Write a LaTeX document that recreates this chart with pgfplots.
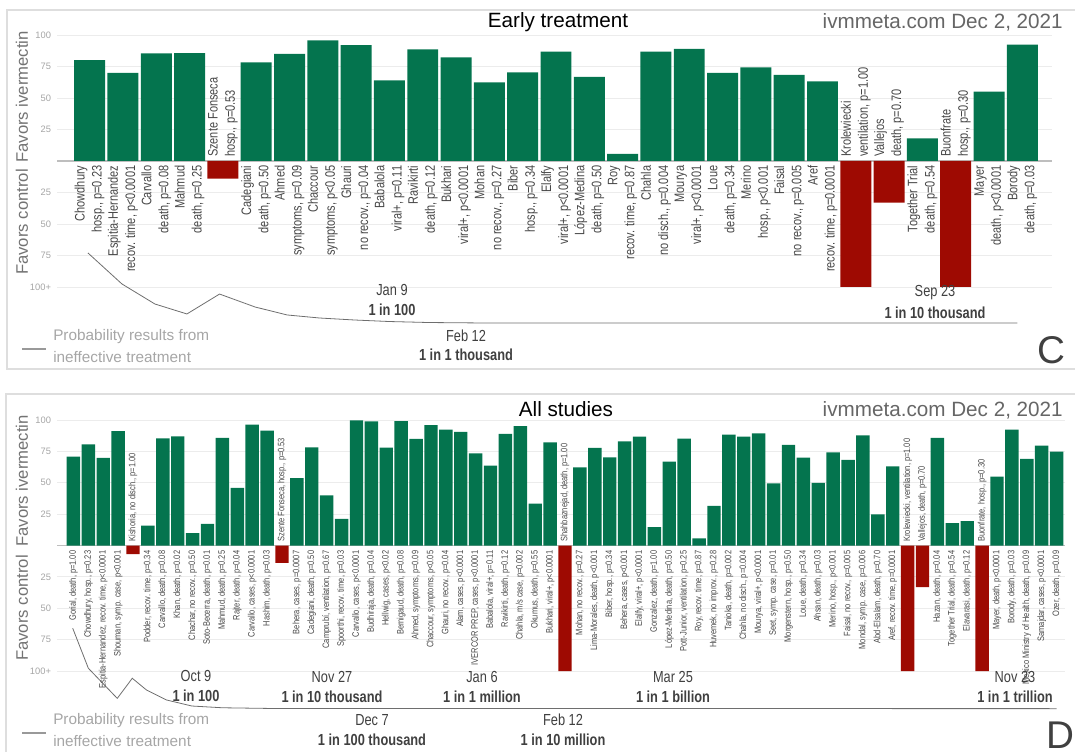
\documentclass[border=0pt]{standalone}
\usepackage{fontspec}
\setmainfont{Liberation Sans}
\newfontfamily\cond{Liberation Sans}[FakeStretch=0.8]
\usepackage{pgfplots}
\pgfplotsset{compat=1.18}
\definecolor{grn}{RGB}{4,116,78}
\definecolor{rd}{RGB}{158,10,2}
\definecolor{lbl}{RGB}{70,70,70}
\definecolor{tck}{RGB}{165,165,165}
\definecolor{grd}{RGB}{236,236,236}
\definecolor{zer}{RGB}{190,190,190}
\definecolor{crv}{RGB}{110,110,110}
\definecolor{frm}{RGB}{222,222,222}
% label macros (inside axis)
\newcommand{\lbTop}[2]{\node[rotate=90,anchor=east,align=right,inner sep=0pt,font=\cond\fontsize{10.3}{12.8}\selectfont,text=lbl] at (axis cs:#1,-3.5) {#2};}
\newcommand{\laTop}[2]{\node[rotate=90,anchor=west,align=left,inner sep=0pt,font=\cond\fontsize{10.3}{12.8}\selectfont,text=lbl] at (axis cs:#1,3) {#2};}
\newcommand{\lbBot}[2]{\node[rotate=90,anchor=east,inner sep=0pt,font=\cond\fontsize{7}{8}\selectfont,text=lbl] at (axis cs:#1,-4) {#2};}
\newcommand{\laBot}[2]{\node[rotate=90,anchor=west,inner sep=0pt,font=\cond\fontsize{7}{8}\selectfont,text=lbl] at (axis cs:#1,3) {#2};}
\pgfplotsset{panel/.style={
  scale only axis, clip=false,
  ymin=-100, ymax=100,
  axis line style={draw=none},
  major tick length=0pt,
  xtick=\empty,
  ytick={-100,-75,-50,-25,25,50,75,100},
  yticklabels={100+,75,50,25,25,50,75,100},
  yticklabel style={font=\fontsize{7}{8}\selectfont, text=tck, xshift=-1pt},
  ymajorgrids, grid style={grd, line width=0.6pt},
  extra y ticks={0}, extra y tick labels={},
  extra y tick style={grid style={zer, line width=0.8pt}},
}}
\begin{document}
\begin{tikzpicture}[x=0.75pt,y=-0.75pt]
\path[use as bounding box] (0,0) rectangle (1075,752);
% frames
\draw[frm, line width=0.9pt] (1075,10) -- (7,10) -- (7,369) -- (1075,369);
\draw[frm, line width=0.9pt] (1075,394) -- (6,394) -- (6,752);

% ================= TOP PANEL =================
\begin{axis}[panel,
  at={({57*0.75pt},{-287*0.75pt})}, anchor=south west,
  width={995*0.75pt}, height={252*0.75pt},
  xmin=-0.98, xmax=28.89]
\addplot[ybar, bar width=0.93, bar shift=0pt, fill=grn, draw=none] coordinates {
(0,80) (1,70) (2,85.5) (3,85.7) (5,78.3) (6,85) (7,95.8) (8,92) (9,64)
(10,88.6) (11,82.3) (12,62.4) (13,70.4) (14,86.8) (15,66.7) (16,5.6) (17,86.8)
(18,89) (19,70) (20,74.3) (21,68.3) (22,63.2) (25,18) (27,55) (28,92.3)};
\addplot[ybar, bar width=0.93, bar shift=0pt, fill=rd, draw=none] coordinates {
(4,-14) (23,-100) (24,-33) (26,-100)};
\addplot[crv, line width=0.6pt] coordinates {
(-0.05,-73) (0.97,-97.6) (1.96,-113.5) (2.92,-121.4) (3.9,-105.6) (4.97,-115.9)
(5.93,-122.2) (6.9,-124.6) (7.96,-126.2) (9.0,-127.4) (10.2,-128.2) (12,-128.6) (27.85,-128.6)};
\lbTop{0}{Chowdhury\\hosp., p=0.23}
\lbTop{1}{Espitia-Hernandez\\recov. time, p<0.0001}
\lbTop{2}{Carvallo\\death, p=0.08}
\lbTop{3}{Mahmud\\death, p=0.25}
\laTop{4}{Szente Fonseca\\hosp., p=0.53}
\lbTop{5}{Cadegiani\\death, p=0.50}
\lbTop{6}{Ahmed\\symptoms, p=0.09}
\lbTop{7}{Chaccour\\symptoms, p<0.05}
\lbTop{8}{Ghauri\\no recov., p=0.04}
\lbTop{9}{Babalola\\viral+, p=0.11}
\lbTop{10}{Ravikirti\\death, p=0.12}
\lbTop{11}{Bukhari\\viral+, p<0.0001}
\lbTop{12}{Mohan\\no recov., p=0.27}
\lbTop{13}{Biber\\hosp., p=0.34}
\lbTop{14}{Elalfy\\viral+, p<0.0001}
\lbTop{15}{López-Medina\\death, p=0.50}
\lbTop{16}{Roy\\recov. time, p=0.87}
\lbTop{17}{Chahla\\no disch., p=0.004}
\lbTop{18}{Mourya\\viral+, p<0.0001}
\lbTop{19}{Loue\\death, p=0.34}
\lbTop{20}{Merino\\hosp., p<0.001}
\lbTop{21}{Faisal\\no recov., p=0.005}
\lbTop{22}{Aref\\recov. time, p=0.0001}
\laTop{23}{Krolewiecki\\ventilation, p=1.00}
\laTop{24}{Vallejos\\death, p=0.70}
\lbTop{25}{Together Trial\\death, p=0.54}
\laTop{26}{Buonfrate\\hosp., p=0.30}
\lbTop{27}{Mayer\\death, p<0.0001}
\lbTop{28}{Borody\\death, p=0.03}
\end{axis}

% ================= BOTTOM PANEL =================
\begin{axis}[panel,
  at={({57*0.75pt},{-671*0.75pt})}, anchor=south west,
  width={1008*0.75pt}, height={251*0.75pt},
  xmin=-1.104, xmax=66.565]
\addplot[ybar, bar width=0.9, bar shift=0pt, fill=grn, draw=none] coordinates {
(0,70.8) (1,80.6) (2,69.8) (3,91.2) (5,15.9) (6,85.4) (7,87) (8,9.8) (9,17.2)
(10,85.7) (11,45.9) (12,96.3) (13,91.5) (15,53.6) (16,78.2) (17,40) (18,21.2)
(19,99.7) (20,98.9) (21,78) (22,99.2) (23,84.9) (24,96) (25,92.3) (26,90.5)
(27,73.5) (28,63.7) (29,88.9) (30,95.2) (31,33.4) (32,82.2) (34,62.3) (35,77.7)
(36,70.3) (37,83) (38,86.7) (39,14.6) (40,66.8) (41,85.1) (42,5.6) (43,31.6)
(44,88.3) (45,86.7) (46,89.4) (47,49.6) (48,80.1) (49,70) (50,49.9) (51,74.3)
(52,68.2) (53,87.8) (54,24.9) (55,63.1) (58,85.7) (59,17.8) (60,19.4) (62,54.9)
(63,92.3) (64,69) (65,79.6) (66,74.8)};
\addplot[ybar, bar width=0.9, bar shift=0pt, fill=rd, draw=none] coordinates {
(4,-6.9) (14,-13.8) (33,-100) (56,-100) (57,-33.2) (61,-100)};
\addplot[crv, line width=0.6pt] coordinates {
(-0.05,-65.9) (1.0,-97.8) (2.94,-121.8) (3.95,-105.8) (4.91,-115.2) (6.25,-123.1)
(7.95,-127.9) (10,-129.3) (12.97,-129.8) (66.0,-130)};
\lbBot{0}{Gorial, death, p=1.00}
\lbBot{1}{Chowdhury, hosp., p=0.23}
\lbBot{2}{Espitia-Hernandez, recov. time, p<0.0001}
\lbBot{3}{Shouman, symp. case, p<0.001}
\laBot{4}{Kishoria, no disch., p=1.00}
\lbBot{5}{Podder, recov. time, p=0.34}
\lbBot{6}{Carvallo, death, p=0.08}
\lbBot{7}{Khan, death, p=0.02}
\lbBot{8}{Chachar, no recov., p=0.50}
\lbBot{9}{Soto-Becerra, death, p=0.01}
\lbBot{10}{Mahmud, death, p=0.25}
\lbBot{11}{Rajter, death, p=0.04}
\lbBot{12}{Carvallo, cases, p<0.0001}
\lbBot{13}{Hashim, death, p=0.03}
\laBot{14}{Szente Fonseca, hosp., p=0.53}
\lbBot{15}{Behera, cases, p=0.0007}
\lbBot{16}{Cadegiani, death, p=0.50}
\lbBot{17}{Camprubí, ventilation, p=0.67}
\lbBot{18}{Spoorthi, recov. time, p=0.03}
\lbBot{19}{Carvallo, cases, p<0.0001}
\lbBot{20}{Budhiraja, death, p=0.04}
\lbBot{21}{Hellwig, cases, p<0.02}
\lbBot{22}{Bernigaud, death, p=0.08}
\lbBot{23}{Ahmed, symptoms, p=0.09}
\lbBot{24}{Chaccour, symptoms, p<0.05}
\lbBot{25}{Ghauri, no recov., p=0.04}
\lbBot{26}{Alam, cases, p<0.0001}
\lbBot{27}{IVERCOR PREP, cases, p<0.0001}
\lbBot{28}{Babalola, viral+, p=0.11}
\lbBot{29}{Ravikirti, death, p=0.12}
\lbBot{30}{Chahla, m/s case, p=0.002}
\lbBot{31}{Okumus, death, p=0.55}
\lbBot{32}{Bukhari, viral+, p<0.0001}
\laBot{33}{Shahbaznejad, death, p=1.00}
\lbBot{34}{Mohan, no recov., p=0.27}
\lbBot{35}{Lima-Morales, death, p<0.001}
\lbBot{36}{Biber, hosp., p=0.34}
\lbBot{37}{Behera, cases, p<0.001}
\lbBot{38}{Elalfy, viral+, p<0.0001}
\lbBot{39}{Gonzalez, death, p=1.00}
\lbBot{40}{López-Medina, death, p=0.50}
\lbBot{41}{Pott-Junior, ventilation, p=0.25}
\lbBot{42}{Roy, recov. time, p=0.87}
\lbBot{43}{Huvemek, no improv., p=0.28}
\lbBot{44}{Tanioka, death, p=0.002}
\lbBot{45}{Chahla, no disch., p=0.004}
\lbBot{46}{Mourya, viral+, p<0.0001}
\lbBot{47}{Seet, symp. case, p=0.01}
\lbBot{48}{Morgenstern, hosp., p=0.50}
\lbBot{49}{Loue, death, p=0.34}
\lbBot{50}{Ahsan, death, p=0.03}
\lbBot{51}{Merino, hosp., p<0.001}
\lbBot{52}{Faisal, no recov., p=0.005}
\lbBot{53}{Mondal, symp. case, p=0.006}
\lbBot{54}{Abd-Elsalam, death, p=0.70}
\lbBot{55}{Aref, recov. time, p=0.0001}
\laBot{56}{Krolewiecki, ventilation, p=1.00}
\laBot{57}{Vallejos, death, p=0.70}
\lbBot{58}{Hazan, death, p=0.04}
\lbBot{59}{Together Trial, death, p=0.54}
\lbBot{60}{Elavarasi, death, p=0.12}
\laBot{61}{Buonfrate, hosp., p=0.30}
\lbBot{62}{Mayer, death, p<0.0001}
\lbBot{63}{Borody, death, p=0.03}
\lbBot{64}{Mexico Ministry of Health, death, p=0.09}
\lbBot{65}{Samajdar, cases, p<0.0001}
\lbBot{66}{Ozer, death, p=0.09}
\end{axis}

% ================= TEXT =================
\tikzset{ttl/.style={font=\fontsize{15.5}{17}\selectfont, inner sep=0pt},
  ylab/.style={rotate=90, font=\fontsize{12.5}{14}\selectfont, text=black!55, inner sep=0pt},
  dt/.style={font=\cond\fontsize{12}{14}\selectfont, text=black!75, inner sep=0pt},
  pr/.style={font=\cond\bfseries\fontsize{12}{14}\selectfont, text=black!75, inner sep=0pt},
  leg/.style={font=\fontsize{11.5}{13}\selectfont, text=black!35, inner sep=0pt, anchor=west},
  big/.style={font=\fontsize{29}{31}\selectfont, text=black!75, inner sep=0pt}}
% top
\node[ttl] at (558,22) {Early treatment};
\node[ttl, text=black!60, anchor=east] at (1063,22) {ivmmeta.com Dec 2, 2021};
\node[ylab] at (22,97) {Favors ivermectin};
\node[ylab] at (22,222) {Favors control};
\node[dt] at (392,290) {Jan 9};
\node[pr] at (392,310) {1 in 100};
\node[dt] at (466,336) {Feb 12};
\node[pr] at (466,355) {1 in 1 thousand};
\node[dt] at (935,293) {Sep 23};
\node[pr] at (935,313) {1 in 10 thousand};
\draw[black!40, line width=0.8pt] (22,349) -- (46,349);
\node[leg] at (53,337) {Probability results from};
\node[leg] at (53,357) {ineffective treatment};
\node[big] at (1051,350) {C};
% bottom
\node[ttl] at (566,409) {All studies};
\node[ttl, text=black!60, anchor=east] at (1063,410) {ivmmeta.com Dec 2, 2021};
\node[ylab] at (22,481) {Favors ivermectin};
\node[ylab] at (22,608) {Favors control};
\node[dt] at (196,676) {Oct 9};
\node[pr] at (196,696) {1 in 100};
\node[dt] at (332,677) {Nov 27};
\node[pr] at (332,697) {1 in 10 thousand};
\node[dt] at (482,677) {Jan 6};
\node[pr] at (482,697) {1 in 1 million};
\node[dt] at (673,677) {Mar 25};
\node[pr] at (673,697) {1 in 1 billion};
\node[dt] at (1015,677) {Nov 23};
\node[pr] at (1015,697) {1 in 1 trillion};
\node[dt] at (372,720) {Dec 7};
\node[pr] at (372,740) {1 in 100 thousand};
\node[dt] at (563,720) {Feb 12};
\node[pr] at (563,740) {1 in 10 million};
\draw[black!40, line width=0.8pt] (22,733) -- (46,733);
\node[leg] at (53,721) {Probability results from};
\node[leg] at (53,741) {ineffective treatment};
\node[big] at (1060,735) {D};
\end{tikzpicture}
\end{document}
